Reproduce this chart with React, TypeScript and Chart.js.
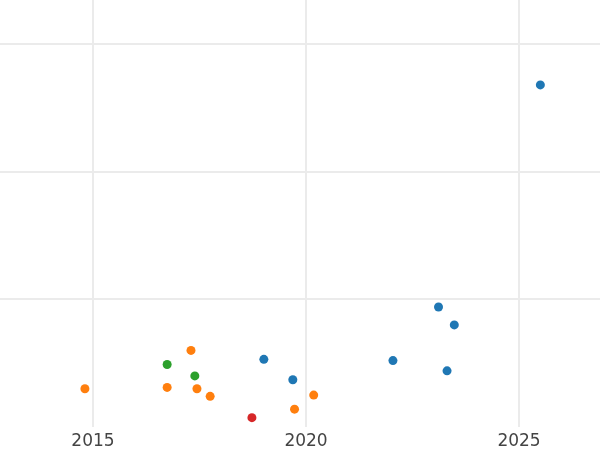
import React, { useEffect, useRef } from "react";
import { Chart, registerables } from "chart.js";

Chart.register(...registerables);

const xTickValues = [2015, 2020, 2025];
const yGridValues = [1, 2, 3];

const blueX = [2019.01, 2019.69, 2022.04, 2023.11, 2023.48, 2023.31, 2025.5];
const blueY = [0.53, 0.37, 0.52, 0.94, 0.8, 0.44, 2.68];

const orangeX = [2014.81, 2016.74, 2017.3, 2017.44, 2017.75, 2019.73, 2020.18];
const orangeY = [0.3, 0.31, 0.6, 0.3, 0.24, 0.14, 0.25];

const greenX = [2016.74, 2017.39];
const greenY = [0.49, 0.4];

const redX = [2018.73];
const redY = [0.073];

const toPoints = (xs: number[], ys: number[]) => xs.map((x, i) => ({ x, y: ys[i] }));

export default function App() {
  const ref = useRef<HTMLCanvasElement | null>(null);
  useEffect(() => {
    if (!ref.current) return;
    const mk = (label: string, xs: number[], ys: number[], color: string) => ({
      label,
      data: toPoints(xs, ys),
      backgroundColor: color,
      borderColor: color,
      borderWidth: 0,
      pointRadius: 4.5,
    });
    const chart = new Chart(ref.current, {
      type: "scatter",
      data: {
        datasets: [
          mk("blue", blueX, blueY, "#1f77b4"),
          mk("orange", orangeX, orangeY, "#ff7f0e"),
          mk("green", greenX, greenY, "#2ca02c"),
          mk("red", redX, redY, "#d62728"),
        ],
      },
      options: {
        responsive: false,
        animation: false,
        layout: { padding: 0, autoPadding: false },
        plugins: { legend: { display: false }, tooltip: { enabled: false } },
        scales: {
          x: {
            type: "linear",
            min: 2012.817,
            max: 2026.9,
            border: { display: false },
            grid: { color: "#ebebeb", lineWidth: 2, drawTicks: false },
            ticks: {
              color: "#444444",
              font: { family: "DejaVu Sans", size: 17 },
              padding: 4,
              callback: (v: any) => String(v),
            },
            afterBuildTicks: (scale: any) => {
              scale.ticks = xTickValues.map((v) => ({ value: v }));
            },
            afterFit: (scale: any) => {
              scale.height = 23;
            },
          },
          y: {
            type: "linear",
            min: 0,
            max: 3.345,
            border: { display: false },
            grid: { color: "#ebebeb", lineWidth: 2, drawTicks: false },
            ticks: { display: false },
            afterBuildTicks: (scale: any) => {
              scale.ticks = yGridValues.map((v) => ({ value: v }));
            },
            afterFit: (scale: any) => {
              scale.width = 0;
            },
          },
        },
      },
    });
    return () => chart.destroy();
  }, []);
  return (
    <canvas
      ref={ref}
      width={600}
      height={450}
      style={{ position: "fixed", left: 0, top: 0, width: 600, height: 450, display: "block" }}
    />
  );
}
